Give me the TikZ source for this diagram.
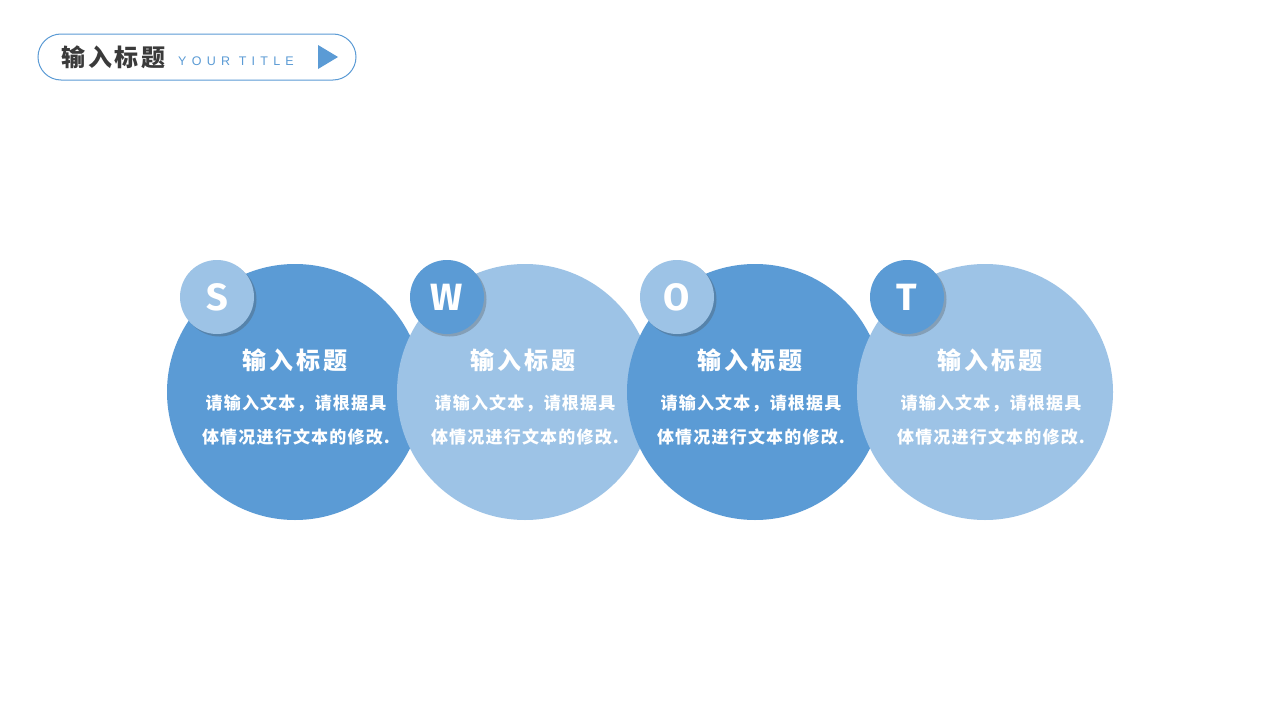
\documentclass[tikz,border=0pt]{standalone}
\usepackage{fontspec}
\setmainfont{Liberation Sans}
\newfontfamily\cjk{Noto Sans CJK SC}
\newfontfamily\cjkhead{Noto Sans CJK SC}[LetterSpace=12]
\newfontfamily\cjkbody{Noto Sans CJK SC}[LetterSpace=7]
\newfontfamily\lettfont{Fira Sans}
\usetikzlibrary{shadows}
\definecolor{darkblue}{HTML}{5B9BD5}
\definecolor{lightblue}{HTML}{9DC3E6}
\definecolor{titlegray}{HTML}{3A3A3A}
\tikzset{
  bigcirc/.style={circle, inner sep=0pt, minimum size=256pt},
  smallcirc/.style={circle, inner sep=0pt, minimum size=74pt, text=white,
     font=\lettfont\bfseries\fontsize{38}{38}\selectfont,
     drop shadow={shadow xshift=2.5pt, shadow yshift=-2.5pt, opacity=0.3, fill=black!70}},
  headtxt/.style={text=white, font=\cjkhead\bfseries\fontsize{24}{24}\selectfont, inner sep=0pt},
  bodytxt/.style={text=white, font=\cjkbody\bfseries\fontsize{17}{34}\selectfont, align=center, inner sep=0pt}
}
\begin{document}
\begin{tikzpicture}[x=1pt,y=-1pt]
\useasboundingbox (0,0) rectangle (1280,720);
\fill[white] (0,0) rectangle (1280,720);
% title box
\draw[darkblue, line width=1pt, rounded corners=23pt] (38,34) rectangle (356,80);
\node[anchor=west, text=titlegray, font=\cjkhead\bfseries\fontsize{24}{24}\selectfont, inner sep=0pt] (ttl) at (61,57) {输入标题};
\node[anchor=west, text=darkblue, font=\fontsize{12.5}{12.5}\selectfont\addfontfeatures{LetterSpace=42}, inner sep=0pt] (sub) at (178,61) {YOUR TITLE};
\fill[darkblue] (318,45) -- (338,57) -- (318,69) -- cycle;
% big circles
\node[bigcirc, fill=darkblue] (c1) at (295,392) {};
\node[bigcirc, fill=lightblue] (c2) at (525,392) {};
\node[bigcirc, fill=darkblue] (c3) at (755,392) {};
\node[bigcirc, fill=lightblue] (c4) at (985,392) {};
% small circles
\node[smallcirc, fill=lightblue] (s1) at (217,297) {S};
\node[smallcirc, fill=darkblue] (s2) at (447,297) {W};
\node[smallcirc, fill=lightblue] (s3) at (677,297) {O};
\node[smallcirc, fill=darkblue] (s4) at (907,297) {T};
% texts
\foreach \i/\x in {1/295,2/523,3/750,4/990}{
  \node[headtxt] (h\i) at (\x,360) {输入标题};
}
\foreach \i/\x in {1/296,2/525,3/751,4/991}{
  \node[bodytxt, anchor=north] (b\i) at (\x,395) {请输入文本，请根据具\\体情况进行文本的修改.};
}
\end{tikzpicture}
\end{document}
